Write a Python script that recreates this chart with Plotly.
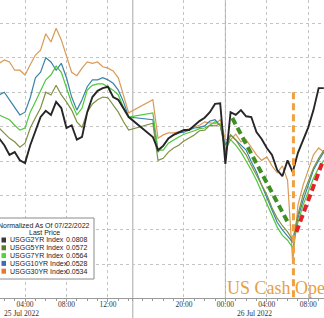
import plotly.graph_objects as go
import pandas as pd

# ---- sample times (30-min bars, session gap 14:00 -> 17:00) ----
times_left = pd.date_range("2022-07-25 01:30", "2022-07-25 14:00", freq="30min")
times_right = pd.date_range("2022-07-25 17:00", "2022-07-26 09:30", freq="30min")
times = list(times_left) + list(times_right)

# ---- normalized yield changes (bp) ----
usgg2 = [3.3, 2.3, 0.9, 1.3, 0.1, -0.3, 2.3, 4.5, 6.4, 7.3, 6.7, 8.6, 7.7, 4.8, 5.2, 3.1, 3.5, 7.1, 9.3, 10.2,
         10.6, 10.8, 9.3, 8.9, 7.7, 6.4,
         3.5, 1.6, 2.2, 3.3, 3.8, 4.2, 4.5, 4.5, 5.2, 5.8, 6.3, 7.1, 8.3, 8.4, -0.4, 7.1, 6.7, 7.4, 6.5, 6.4,
         4.2, 3.2, 1.9, 0.9, -1.3, -2.2, 0.1, -1.6, 1.2, 3.1, 4.9, 7.4, 10.6, 10.6]
usgg5 = [4.8, 4.1, 3.3, 2.8, 2.0, 2.6, 4.8, 6.3, 7.7, 10.0, 9.6, 11.0, 9.6, 8.6, 7.4, 5.7, 4.9, 7.1, 8.3, 8.9,
         9.3, 9.2, 8.1, 7.1, 5.7, 4.5,
         5.5, 0.1, 0.4, 1.3, 1.9, 2.3, 2.9, 3.3, 3.8, 4.4, 4.5, 5.2, 5.1, 5.4, 1.3, 3.8, 3.1, 1.9, 0.9, -0.6,
         -2.0, -3.5, -4.9, -6.8, -8.3, -9.4, -10.3, -11.5, -7.8, -4.9, -2.8, -1.0, 0.4, 1.6]
usgg7 = [6.7, 6.4, 6.0, 5.2, 4.5, 4.8, 7.1, 8.6, 10.3, 11.8, 12.5, 13.8, 12.9, 10.6, 8.4, 6.7, 7.7, 10.3, 11.0, 11.2,
         11.2, 10.8, 10.3, 9.6, 7.8, 6.4,
         7.0, 1.6, 1.6, 2.6, 3.1, 3.5, 3.9, 4.1, 4.4, 4.7, 4.8, 5.2, 5.7, 5.2, 1.6, 3.1, 2.3, 1.3, 0.1, -1.3,
         -2.8, -4.5, -6.1, -7.8, -9.6, -10.8, -11.5, -12.6, -8.9, -6.4, -4.5, -2.5, -1.0, 0.1]
usgg10 = [9.6, 10.0, 8.9, 7.8, 6.7, 7.1, 9.2, 12.1, 12.9, 15.0, 14.4, 13.2, 14.2, 12.1, 9.3, 7.4, 8.9, 10.8, 11.8, 11.8,
          12.1, 11.8, 11.3, 10.3, 8.6, 6.4,
          6.0, 1.3, 2.3, 3.2, 3.8, 4.1, 4.2, 4.5, 4.8, 4.9, 5.1, 5.8, 6.0, 5.2, 2.3, 3.8, 3.1, 2.3, 1.6, -0.1,
          -1.6, -3.5, -5.4, -7.1, -8.9, -10.0, -10.9, -11.8, -8.3, -5.7, -3.5, -1.3, 0.1, 1.3]
usgg30 = [14.2, 14.7, 14.4, 13.2, 13.2, 12.5, 14.0, 15.4, 16.1, 18.5, 17.3, 19.3, 17.6, 15.4, 12.9, 12.4, 13.5, 14.4,
          14.2, 14.4, 13.7, 13.5, 13.1, 12.1, 9.6, 7.0,
          8.9, 3.3, 3.8, 4.1, 4.1, 4.2, 4.4, 4.7, 4.9, 5.2, 5.7, 5.5, 5.4, 6.0, 3.1, 3.1, 3.9, 2.8, 3.1, 2.0,
          0.9, 0.1, 0.6, -0.7, -1.7, -0.7, -2.8, -14.7, -6.4, -3.5, -1.3, 0.9, 1.9, 1.3]

legend_names = ["USGG2YR Index", "USGG5YR Index", "USGG7YR Index", "USGG10YR Index", "USGG30YR Index"]
legend_values = ["0.0808", "0.0572", "0.0564", "0.0528", "0.0534"]
legend_colors = ["#3a3a3a", "#5f7d1c", "#4fd43a", "#3d6db5", "#e8772a"]
line_colors = ["#262626", "#7f9140", "#4cc83a", "#3a84a6", "#d99a58"]

# annotation lines
green_trend_x = ["2022-07-26 00:40", "2022-07-26 06:10"]
green_trend_y = [6.25, -9.3]
red_trend_x = ["2022-07-26 06:51", "2022-07-26 09:27"]
red_trend_y = [-10.3, 0.15]
cash_open_x = ["2022-07-26 06:34", "2022-07-26 06:34"]
cash_open_y = [10.0, -20.0]

tick_vals = ["2022-07-25 04:00", "2022-07-25 08:00", "2022-07-25 12:00", "2022-07-25 20:00",
             "2022-07-26 00:00", "2022-07-26 04:00", "2022-07-26 08:00"]
tick_text = ["04:00", "08:00", "12:00", "20:00", "00:00", "04:00", "08:00"]
date_labels = ["25 Jul 2022", "26 Jul 2022"]

W, H, B = 324, 318, 20
PH = H - B

def px(x):
    return x / W

def py(y):
    return (PH - y) / PH

fig = go.Figure()
series = [usgg30, usgg10, usgg7, usgg5, usgg2]
order = [4, 3, 2, 1, 0]
for idx, s in zip(order, series):
    fig.add_trace(go.Scatter(x=times, y=s, mode="lines",
                             line=dict(color=line_colors[idx], width=1.9 if idx == 0 else 1.2),
                             name=legend_names[idx], hoverinfo="skip"))

fig.add_trace(go.Scatter(x=green_trend_x, y=green_trend_y, mode="lines",
                         line=dict(color="#3f8f22", width=4, dash="7px,4px"), hoverinfo="skip"))
fig.add_trace(go.Scatter(x=red_trend_x, y=red_trend_y, mode="lines",
                         line=dict(color="#e2232b", width=4, dash="7px,4px"), hoverinfo="skip"))
fig.add_trace(go.Scatter(x=cash_open_x, y=cash_open_y, mode="lines",
                         line=dict(color="#f0a040", width=3, dash="7px,4px"), hoverinfo="skip"))

shapes = [
    dict(type="line", xref="x", yref="paper", x0="2022-07-25 14:24", x1="2022-07-25 14:24",
         y0=-B / PH, y1=1, line=dict(color="#a8a8a8", width=1), layer="between"),
    dict(type="line", xref="x", yref="paper", x0="2022-07-26 00:00", x1="2022-07-26 00:00",
         y0=0, y1=1, line=dict(color="#a8a8a8", width=1), layer="between"),
    dict(type="rect", xref="paper", yref="paper", x0=px(-5), x1=px(94), y0=py(279), y1=py(218),
         line=dict(color="#8a8a8a", width=1), fillcolor="white", layer="above"),
]

annotations = [
    dict(text="Normalized As Of 07/22/2022", xref="paper", yref="paper", x=px(44), y=py(225),
         xanchor="center", yanchor="middle", showarrow=False,
         font=dict(family="Liberation Sans", size=7, color="#222")),
    dict(text="Last Price", xref="paper", yref="paper", x=px(44), y=py(232.5),
         xanchor="center", yanchor="middle", showarrow=False,
         font=dict(family="Liberation Sans", size=7, color="#222")),
]
for i, (nm, val, col) in enumerate(zip(legend_names, legend_values, legend_colors)):
    yc = 240 + i * 7.8
    shapes.append(dict(type="rect", xref="paper", yref="paper", x0=px(1.5), x1=px(6),
                       y0=py(yc + 2.5), y1=py(yc - 2.5), line=dict(width=0), fillcolor=col, layer="above"))
    annotations.append(dict(text=nm, xref="paper", yref="paper", x=px(7.5), y=py(yc),
                            xanchor="left", yanchor="middle", showarrow=False,
                            font=dict(family="Liberation Sans", size=7, color="#222")))
    annotations.append(dict(text=val, xref="paper", yref="paper", x=px(90), y=py(yc),
                            xanchor="right", yanchor="middle", showarrow=False,
                            font=dict(family="Liberation Sans", size=7, color="#222")))

annotations.append(dict(text=date_labels[0], xref="paper", yref="paper", x=px(21), y=py(313.5),
                        xanchor="center", yanchor="middle", showarrow=False,
                        font=dict(family="Liberation Serif", size=7.5, color="#333")))
annotations.append(dict(text=date_labels[1], xref="paper", yref="paper", x=px(254), y=py(313.5),
                        xanchor="center", yanchor="middle", showarrow=False,
                        font=dict(family="Liberation Serif", size=7.5, color="#333")))
annotations.append(dict(text="US Cash Open", xref="x", yref="paper", x="2022-07-26 00:00", y=py(288),
                        xanchor="left", yanchor="middle", showarrow=False,
                        font=dict(family="Liberation Serif", size=18, color="#e8a03c")))

fig.update_layout(
    width=W, height=H, margin=dict(l=0, r=0, t=0, b=B),
    paper_bgcolor="white", plot_bgcolor="white", showlegend=False,
    shapes=shapes, annotations=annotations,
    xaxis=dict(type="date", range=["2022-07-25 01:35", "2022-07-26 09:31"],
               rangebreaks=[dict(values=["2022-07-25 14:25:00"], dvalue=40 * 60 * 1000)],
               tickmode="array", tickvals=tick_vals, ticktext=tick_text,
               showgrid=True, gridcolor="#c4c4c4", griddash="dot", gridwidth=1,
               showline=True, linecolor="#9a9a9a", linewidth=1,
               ticks="outside", ticklen=3, tickcolor="#9a9a9a", ticklabelstandoff=-4,
               minor=dict(ticks="outside", ticklen=2, tickcolor="#9a9a9a",
                          dtick=3600000, tick0="2022-07-25 00:00", showgrid=False),
               tickfont=dict(family="Liberation Serif", size=7.5, color="#333"),
               zeroline=False),
    yaxis=dict(range=[-19.9, 23.4], tick0=0, dtick=5, showticklabels=False,
               showgrid=True, gridcolor="#c4c4c4", griddash="dot", gridwidth=1,
               zeroline=False, showline=False, ticks=""),
)

fig.write_html("out.html")
